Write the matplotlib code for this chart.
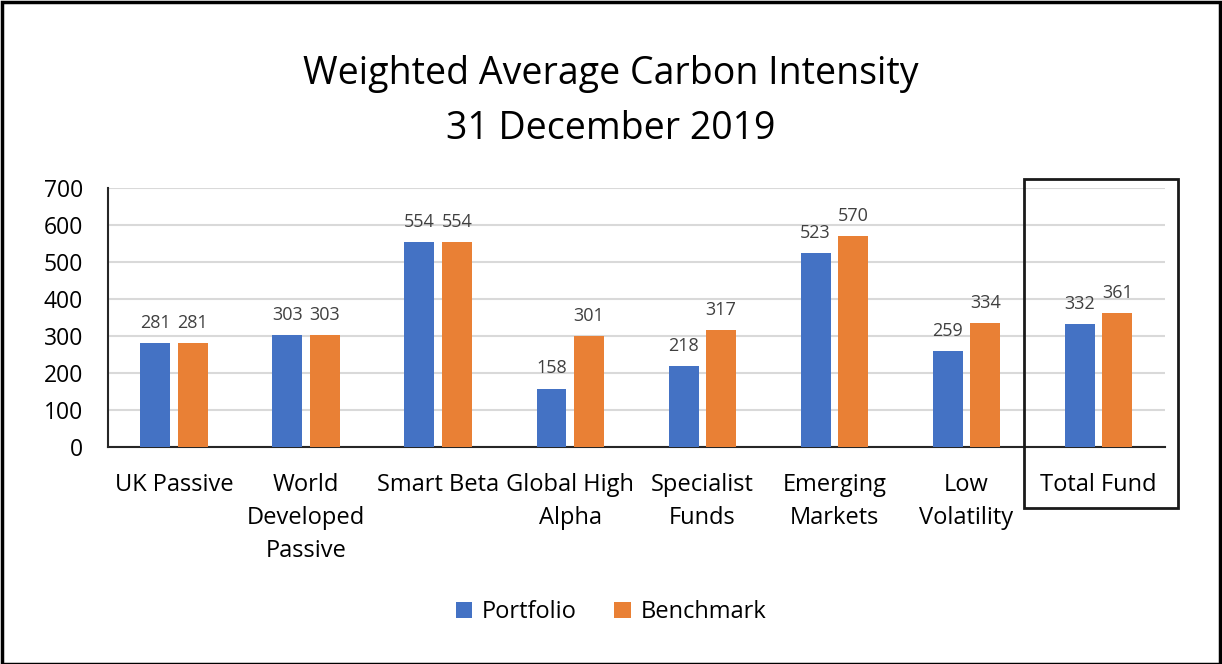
import numpy as np
import matplotlib.pyplot as plt
from matplotlib.patches import Rectangle

categories = ['UK Passive', 'World\nDeveloped\nPassive', 'Smart Beta', 'Global High\nAlpha',
              'Specialist\nFunds', 'Emerging\nMarkets', 'Low\nVolatility', 'Total Fund']
portfolio = [281, 303, 554, 158, 218, 523, 259, 332]
benchmark = [281, 303, 554, 301, 317, 570, 334, 361]
yticks = [0, 100, 200, 300, 400, 500, 600, 700]

blue = '#4472C4'
orange = '#E98035'
plt.rcParams['font.family'] = ['Open Sans', 'DejaVu Sans']

fig = plt.figure(figsize=(12.22, 6.64), dpi=100)
ax = fig.add_axes([0.0884, 0.3268, 0.8646, 0.3901])

x = np.arange(len(categories))
w = 0.227
off = 0.142
b1 = ax.bar(x - off, portfolio, w, color=blue, label='Portfolio', zorder=3)
b2 = ax.bar(x + off, benchmark, w, color=orange, label='Benchmark', zorder=3)

for bars, vals in ((b1, portfolio), (b2, benchmark)):
    for r, v in zip(bars, vals):
        ax.annotate(str(v), (r.get_x() + r.get_width() / 2, v), xytext=(0, 8),
                    textcoords='offset points', ha='center', va='bottom',
                    fontsize=13, color='#404040')

ax.set_xlim(-0.5, len(categories) - 0.5)
ax.set_ylim(0, 700)
ax.set_yticks(yticks)
ax.set_xticks(x)
ax.set_xticklabels(categories, fontsize=17, linespacing=1.5, va='top')
ax.tick_params(axis='y', labelsize=16.5, length=0, pad=18)
ax.tick_params(axis='x', length=0, pad=19)
ax.yaxis.grid(True, color='#D9D9D9', linewidth=1.5, zorder=0)
ax.set_axisbelow(True)
for s in ('top', 'right'):
    ax.spines[s].set_visible(False)
ax.spines['left'].set_linewidth(1.5)
ax.spines['bottom'].set_linewidth(1.5)
ax.spines['left'].set_color('#262626')
ax.spines['bottom'].set_color('#262626')

fig.text(0.5, 0.889, 'Weighted Average Carbon Intensity', ha='center', va='center', fontsize=27)
fig.text(0.5, 0.806, '31 December 2019', ha='center', va='center', fontsize=27)

# box around Total Fund
fig.patches.append(Rectangle((0.838, 0.235), 0.126, 0.4954, transform=fig.transFigure,
                             fill=False, edgecolor='#1a1a1a', linewidth=2))
# outer border
fig.patches.append(Rectangle((0.0015, 0.0), 0.997, 0.997, transform=fig.transFigure,
                             fill=False, edgecolor='black', linewidth=2.5))

fig.legend(handles=[b1, b2], loc='center', bbox_to_anchor=(0.5, 0.078), ncol=2,
           frameon=False, fontsize=17, handlelength=0.7, handleheight=0.7,
           columnspacing=1.6, handletextpad=0.4)

fig.savefig('out.png', dpi=100)
